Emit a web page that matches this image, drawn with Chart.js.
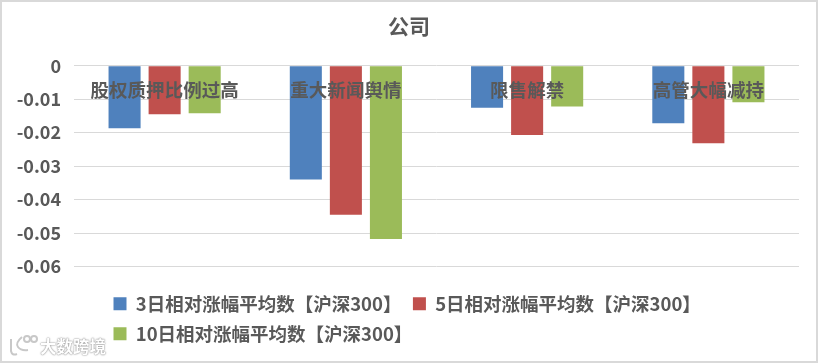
<!DOCTYPE html>
<html>
<head>
<meta charset="utf-8">
<script src="https://cdn.jsdelivr.net/npm/chart.js@4"></script>
<style>
    html, body { margin: 0; padding: 0; background: #fff; }
    #box { position: relative; width: 818px; height: 363px; overflow: hidden; }
    canvas { position: absolute; left: 0; top: 0; outline: 2px solid #d9d9d9; outline-offset: -2px; }
    #mark {
        position: absolute; left: 40px; top: 334px;
        font: bold 16.5px "Noto Sans CJK SC", sans-serif;
        color: #fff;
        text-shadow: 0 0 2px #8c8c8c, 0 0 1px #8c8c8c;
    }
    #logo { position: absolute; left: 8px; top: 334px; }
</style>
</head>
<body>
<div id="box">
    <canvas id="chart" width="818" height="363"></canvas>
    <svg id="logo" width="32" height="24" fill="none" stroke="#c8c8c8" stroke-width="2">
        <path d="M3 5v12q1 5 6 3M14 3q-7 6-4 10t10 3"/>
        <circle cx="19" cy="5" r="3"/><circle cx="26" cy="5" r="3"/>
    </svg>
    <div id="mark">大数跨境</div>
</div>
<script>
const FONT = '"Noto Sans CJK SC", sans-serif';
const TEXT = "#595959";

const categories = ["股权质押比例过高", "重大新闻舆情", "限售解禁", "高管大幅减持"];
const seriesNames = ["3日相对涨幅平均数【沪深300】", "5日相对涨幅平均数【沪深300】", "10日相对涨幅平均数【沪深300】"];
const days3 = [-0.0187, -0.034, -0.0126, -0.0172];
const days5 = [-0.0145, -0.0445, -0.0207, -0.0232];
const days10 = [-0.0142, -0.0518, -0.0122, -0.0109];
const yTicks = [0, -0.01, -0.02, -0.03, -0.04, -0.05, -0.06];
const barColors = ["#4f81bd", "#c0504d", "#9bbb59"];

// title is centred on the whole canvas, legend sits lower and further right than the layout puts it
const moveBoxes = {
    id: "moveBoxes",
    afterLayout(chart) {
        chart.titleBlock.right = 818;
        chart.legend.left = 102;
        chart.legend.top = 283;
        chart.legend.bottom = 363;
    },
};

new Chart(document.getElementById("chart"), {
    type: "bar",
    plugins: [moveBoxes],
    data: {
        labels: categories,
        datasets: [days3, days5, days10].map((values, i) => ({
            label: seriesNames[i],
            data: values,
            backgroundColor: barColors[i],
            categoryPercentage: 0.663,
            barPercentage: 0.8,
        })),
    },
    options: {
        responsive: false,
        animation: false,
        layout: { padding: { right: 19, bottom: 26.5 } },
        scales: {
            x: {
                position: { y: 0 },
                grid: { display: false },
                border: { display: false },
                ticks: {
                    z: 1,
                    padding: 5,
                    maxRotation: 0,
                    autoSkip: false,
                    color: TEXT,
                    font: { family: FONT, size: 18.5, weight: "bold" },
                },
            },
            y: {
                min: -0.06,
                max: 0,
                afterBuildTicks(scale) {
                    scale.ticks = yTicks.map((value) => ({ value }));
                },
                afterFit(scale) {
                    scale.width = 74;
                },
                grid: { color: "#d9d9d9", lineWidth: 1, drawTicks: false },
                border: { display: false },
                ticks: {
                    padding: 13,
                    color: TEXT,
                    font: { family: FONT, size: 18, weight: "bold" },
                    callback: (value) => String(value),
                },
            },
        },
        plugins: {
            title: {
                display: true,
                text: "公司",
                color: TEXT,
                font: { family: FONT, size: 21, weight: "bold" },
                padding: { top: 13, bottom: 27.5 },
            },
            legend: {
                position: "bottom",
                align: "start",
                labels: {
                    boxWidth: 13,
                    boxHeight: 13,
                    padding: 11.5,
                    color: TEXT,
                    font: { family: FONT, size: 18.5, weight: "bold" },
                },
            },
            tooltip: { enabled: false },
        },
    },
});
</script>
</body>
</html>
